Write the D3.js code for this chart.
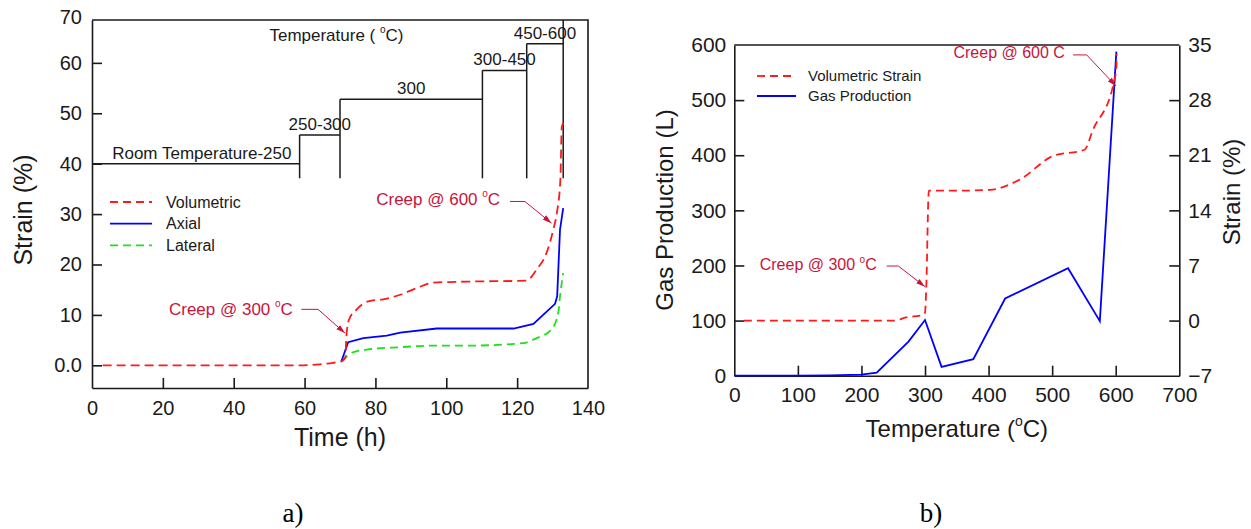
<!DOCTYPE html>
<html>
<head>
<meta charset="utf-8">
<script src="https://cdn.jsdelivr.net/npm/d3@7"></script>
<style>
  body { margin: 0; background: #fff; }
  svg { display: block; }
</style>
</head>
<body>
<svg id="fig" width="1251" height="529"></svg>
<script>
// ---- panel a) data : strain vs time ----
var volTime   = [3, 20, 40, 55, 58.7, 64.3, 68, 70.4, 71.5, 71.8, 72.5, 74.6, 78, 82.2, 87, 91.6, 96.3, 105.7, 122.6, 125.5, 128.3, 130.2, 131.2, 132.2, 132.6, 133.1];
var volStrain = [0, 0, 0, 0, 0, 0.2, 0.5, 0.8, 1.5, 5.7, 9, 11, 12.7, 13.1, 14, 15.3, 16.4, 16.6, 16.8, 19, 22.3, 26.9, 30.2, 36.8, 47.3, 48.1];
var axTime    = [70.4, 72.3, 76.6, 83.2, 87, 97.3, 119, 124.6, 130.7, 131.3, 132.1, 133];
var axStrain  = [0.8, 4.6, 5.4, 5.9, 6.5, 7.3, 7.3, 8.2, 12.2, 13.7, 26.9, 31.2];
var latTime   = [70.4, 73.8, 77.5, 87, 96.3, 105.7, 121.7, 125.5, 129.7, 131.6, 132.1, 133];
var latStrain = [0.8, 2.6, 3.1, 3.6, 3.9, 3.9, 4.4, 5.4, 7.1, 10.4, 13.7, 18.3];

// temperature stages drawn as steps on the strain scale
var stepTime   = [0, 58.6, 70, 110.2, 122.7, 133];
var stepLevel  = [40, 45.7, 52.8, 58.5, 63.8];
var stepLabels = ["Room Temperature-250", "250-300", "300", "300-450", "450-600"];
var stepBase   = 37.1;

var timeTicks   = [0, 20, 40, 60, 80, 100, 120, 140];
var strainTicks = [0, 10, 20, 30, 40, 50, 60];

// ---- panel b) data : gas production & strain vs temperature ----
var bVolTemp   = [15, 100, 200, 252, 270, 296, 300, 302, 306, 350, 402, 449, 501, 551, 564, 596, 601, 601.5];
var bVolStrain = [0, 0, 0, 0, 0.4, 0.7, 1.0, 4.3, 16.5, 16.5, 16.6, 17.9, 20.9, 21.7, 24.2, 29.9, 32.2, 33.9];
var gasTemp    = [0, 100, 150, 200, 224, 274, 300, 326, 376, 426, 525, 575, 601];
var gasProd    = [0, 0, 0.5, 2, 5.5, 62, 101, 16, 30, 140, 195, 99, 588];

var tempTicks  = [0, 100, 200, 300, 400, 500, 600, 700];
var gasTicks   = [0, 100, 200, 300, 400, 500, 600];
var bStrTicks  = [-7, 0, 7, 14, 21, 28, 35];

var FONT = "'Liberation Sans', Arial, Helvetica, sans-serif";
var INK = "#1a1a1a", RED = "#ff1a1a", BLUE = "#0000ff", GREEN = "#1ee01e", CREEP = "#c8143c";

var svg = d3.select("#fig").attr("font-family", FONT);

svg.append("defs").append("marker")
    .attr("id", "arr").attr("viewBox", "0 0 10 6")
    .attr("refX", 10).attr("refY", 3)
    .attr("markerWidth", 9).attr("markerHeight", 6)
    .attr("markerUnits", "userSpaceOnUse").attr("orient", "auto")
  .append("path").attr("d", "M0,0L10,3L0,6z").attr("fill", CREEP);

function styleAxis(g, size) {
    g.attr("font-family", FONT);
    g.select(".domain").attr("stroke", INK).attr("stroke-width", 1.6);
    g.selectAll(".tick line").attr("stroke", INK).attr("stroke-width", 1.6);
    g.selectAll(".tick text").attr("fill", INK).attr("font-size", size);
}

// text with a small raised degree sign: before + "o" + after
function degree(t, size, before, after) {
    var up = Math.round(size * 0.45);
    t.append("tspan").text(before);
    t.append("tspan").attr("font-size", Math.round(size * 0.6)).attr("dy", -up).text("o");
    t.append("tspan").attr("dy", up).text(after);
    return t;
}

function pts(xs, ys) { return xs.map(function (x, i) { return [x, ys[i]]; }); }

function arrow(g, x, y, d, size, label) {
    // d: [text end/baseline, line start, elbow, tip] in data units
    var t = g.append("text").attr("x", x(d[0][0])).attr("y", y(d[0][1]))
        .attr("text-anchor", "end").attr("fill", CREEP).attr("font-size", size);
    if (label.indexOf("°") >= 0) degree(t, size, label.split("°")[0], label.split("°")[1]);
    else t.text(label);
    g.append("path")
        .attr("d", d3.line()([d[1], d[2], d[3]].map(function (p) { return [x(p[0]), y(p[1])]; })))
        .attr("fill", "none").attr("stroke", CREEP).attr("stroke-width", 1)
        .attr("marker-end", "url(#arr)");
}

// ================= panel a =================
var xa = d3.scaleLinear().domain([0, 140]).range([92, 588]);
var ya = d3.scaleLinear().domain([-4.5, 68.5]).range([388, 20]);
var ga = svg.append("g");

ga.append("g").attr("transform", "translate(0," + ya.range()[0] + ")")
    .call(d3.axisBottom(xa).tickValues(timeTicks).tickSize(-10).tickSizeOuter(0).tickPadding(13))
    .call(styleAxis, 20)
    .call(function (g) { g.selectAll(".tick line").filter(function (d) { return d === 0 || d === 140; }).remove(); });

ga.append("g").attr("transform", "translate(" + xa.range()[0] + ",0)")
    .call(d3.axisLeft(ya).tickValues(strainTicks).tickSize(-10).tickSizeOuter(0).tickPadding(10)
        .tickFormat(function (d) { return d === 0 ? "0.0" : d; }))
    .call(styleAxis, 20);

ga.append("text").attr("x", xa(0) - 10).attr("y", ya(68.5) - 2).attr("dy", "0.32em")
    .attr("text-anchor", "end").attr("font-size", 20).attr("fill", INK).text("70");

// frame top/right
ga.append("path")
    .attr("d", "M" + xa(0) + "," + ya(68.5) + "H" + xa(140) + "V" + ya(-4.5))
    .attr("fill", "none").attr("stroke", INK).attr("stroke-width", 1.6);

// temperature steps
var stepG = ga.append("g").attr("fill", "none").attr("stroke", INK).attr("stroke-width", 1.5);
stepLevel.forEach(function (lv, i) {
    stepG.append("line").attr("x1", xa(stepTime[i])).attr("x2", xa(stepTime[i + 1]))
        .attr("y1", ya(lv)).attr("y2", ya(lv));
    var top = i + 1 < stepLevel.length ? stepLevel[i + 1] : 68.5;
    stepG.append("line").attr("x1", xa(stepTime[i + 1])).attr("x2", xa(stepTime[i + 1]))
        .attr("y1", ya(stepBase)).attr("y2", ya(top));
    ga.append("text")
        .attr("x", xa((stepTime[i] + stepTime[i + 1]) / 2) + (i === 0 ? 6 : 0))
        .attr("y", ya(lv) - 5).attr("text-anchor", "middle")
        .attr("font-size", 17).attr("fill", INK).text(stepLabels[i]);
});
degree(ga.append("text").attr("x", xa(69)).attr("y", ya(64.3)).attr("text-anchor", "middle")
    .attr("font-size", 17).attr("fill", INK), 17, "Temperature ( ", "C)");

var lineA = d3.line().x(function (d) { return xa(d[0]); }).y(function (d) { return ya(d[1]); });
ga.append("path").datum(pts(latTime, latStrain)).attr("d", lineA.curve(d3.curveMonotoneX))
    .attr("fill", "none").attr("stroke", GREEN).attr("stroke-width", 1.8).attr("stroke-dasharray", "8,5");
ga.append("path").datum(pts(axTime, axStrain)).attr("d", lineA.curve(d3.curveLinear))
    .attr("fill", "none").attr("stroke", BLUE).attr("stroke-width", 1.8);
ga.append("path").datum(pts(volTime, volStrain)).attr("d", lineA.curve(d3.curveMonotoneX))
    .attr("fill", "none").attr("stroke", RED).attr("stroke-width", 1.8).attr("stroke-dasharray", "9,5");

arrow(ga, xa, ya, [[56.7, 10], [59.1, 11.1], [63.8, 11.1], [71.4, 6.4]], 17, "Creep @ 300 °C");
arrow(ga, xa, ya, [[115.2, 31.8], [118, 32.5], [122.2, 32.5], [129.7, 28.2]], 17, "Creep @ 600 °C");

var legA = [["Volumetric", RED, "8,5"], ["Axial", BLUE, null], ["Lateral", GREEN, "8,5"]];
legA.forEach(function (l, i) {
    var yy = 202 + i * 21.7;
    ga.append("line").attr("x1", 110).attr("x2", 152).attr("y1", yy).attr("y2", yy)
        .attr("stroke", l[1]).attr("stroke-width", 1.8).attr("stroke-dasharray", l[2]);
    ga.append("text").attr("x", 166).attr("y", yy).attr("dy", "0.35em")
        .attr("font-size", 16).attr("fill", INK).text(l[0]);
});

ga.append("text").attr("x", xa(70)).attr("y", 446).attr("text-anchor", "middle")
    .attr("font-size", 25).attr("fill", INK).text("Time (h)");
ga.append("text").attr("transform", "translate(32,210) rotate(-90)").attr("text-anchor", "middle")
    .attr("font-size", 25).attr("fill", INK).text("Strain (%)");

// ================= panel b =================
var xb = d3.scaleLinear().domain([0, 700]).range([734.3, 1179.3]);
var yb = d3.scaleLinear().domain([0, 600]).range([375.7, 45]);
var yb2 = d3.scaleLinear().domain([-7, 35]).range([375.7, 45]);
var gb = svg.append("g");

gb.append("g").attr("transform", "translate(0," + yb.range()[0] + ")")
    .call(d3.axisBottom(xb).tickValues(tempTicks).tickSize(-10).tickSizeOuter(0).tickPadding(11))
    .call(styleAxis, 21)
    .call(function (g) { g.selectAll(".tick line").filter(function (d) { return d === 0 || d === 700; }).remove(); });

gb.append("g").attr("transform", "translate(" + xb.range()[0] + ",0)")
    .call(d3.axisLeft(yb).tickValues(gasTicks).tickSize(-10).tickSizeOuter(0).tickPadding(8))
    .call(styleAxis, 21)
    .call(function (g) { g.selectAll(".tick line").filter(function (d) { return d === 0 || d === 600; }).remove(); });

gb.append("g").attr("transform", "translate(" + xb.range()[1] + ",0)")
    .call(d3.axisRight(yb2).tickValues(bStrTicks).tickSize(-10).tickSizeOuter(0).tickPadding(9))
    .call(styleAxis, 21)
    .call(function (g) { g.selectAll(".tick line").filter(function (d) { return d === -7 || d === 35; }).remove(); });

gb.append("line").attr("x1", xb(0)).attr("x2", xb(700)).attr("y1", yb(600)).attr("y2", yb(600))
    .attr("stroke", INK).attr("stroke-width", 1.6);

gb.append("path").datum(pts(gasTemp, gasProd))
    .attr("d", d3.line().x(function (d) { return xb(d[0]); }).y(function (d) { return yb(d[1]); }))
    .attr("fill", "none").attr("stroke", BLUE).attr("stroke-width", 1.8);
gb.append("path").datum(pts(bVolTemp, bVolStrain))
    .attr("d", d3.line().curve(d3.curveMonotoneX).x(function (d) { return xb(d[0]); }).y(function (d) { return yb2(d[1]); }))
    .attr("fill", "none").attr("stroke", RED).attr("stroke-width", 1.8).attr("stroke-dasharray", "8,5");

arrow(gb, xb, yb, [[224, 191.8], [239.7, 199], [258, 199], [300, 161.5]], 16, "Creep @ 300 °C");
arrow(gb, xb, yb, [[520, 576], [533, 582], [554.3, 582], [600.4, 525.6]], 16, "Creep @ 600 C");

var legB = [["Volumetric Strain", RED, "8,5"], ["Gas Production", BLUE, null]];
legB.forEach(function (l, i) {
    var yy = 76 + i * 20;
    gb.append("line").attr("x1", 757).attr("x2", 796).attr("y1", yy).attr("y2", yy)
        .attr("stroke", l[1]).attr("stroke-width", 1.8).attr("stroke-dasharray", l[2]);
    gb.append("text").attr("x", 808).attr("y", yy).attr("dy", "0.35em")
        .attr("font-size", 15).attr("fill", INK).text(l[0]);
});

degree(gb.append("text").attr("x", (xb(0) + xb(700)) / 2).attr("y", 437).attr("text-anchor", "middle")
    .attr("font-size", 24).attr("fill", INK), 24, "Temperature (", "C)");
gb.append("text").attr("transform", "translate(673,210) rotate(-90)").attr("text-anchor", "middle")
    .attr("font-size", 24).attr("fill", INK).text("Gas Production (L)");
gb.append("text").attr("transform", "translate(1240,192) rotate(-90)").attr("text-anchor", "middle")
    .attr("font-size", 24).attr("fill", INK).text("Strain (%)");

// panel captions
svg.append("text").attr("x", 293).attr("y", 522).attr("text-anchor", "middle")
    .attr("font-family", "'Liberation Serif', 'Times New Roman', serif").attr("font-size", 27).text("a)");
svg.append("text").attr("x", 931).attr("y", 522).attr("text-anchor", "middle")
    .attr("font-family", "'Liberation Serif', 'Times New Roman', serif").attr("font-size", 27).text("b)");
</script>
</body>
</html>
